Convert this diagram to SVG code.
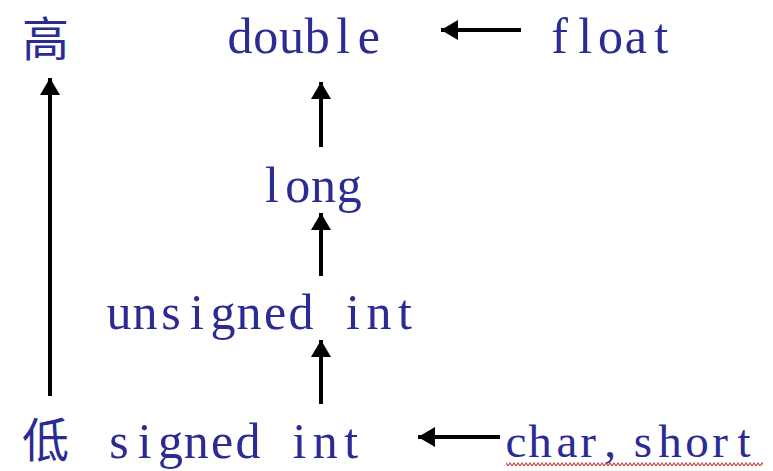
<svg xmlns="http://www.w3.org/2000/svg" width="773" height="471" viewBox="0 0 773 471">
  <style>
    .mono { font-family: "Liberation Serif", "Times New Roman", serif; font-size: 50px; fill: #2b2b96; text-anchor: middle; }
    .cjk { font-family: "Noto Sans CJK SC", "Noto Sans CJK JP", sans-serif; font-size: 47px; fill: #2b2b96; }
    .link { stroke: #000; stroke-width: 4; fill: none; marker-end: url(#head); }
  </style>
  <defs>
    <marker id="head" markerUnits="userSpaceOnUse" markerWidth="20" markerHeight="22" refX="17" refY="10" orient="auto">
      <path d="M0,0 L17,10 L0,20 Z" fill="#000"/>
    </marker>
    <pattern id="squiggle" patternUnits="userSpaceOnUse" x="0" y="462" width="4" height="5">
      <path d="M0,4 L2,1 L4,4" fill="none" stroke="#cc4444" stroke-width="1.2"/>
    </pattern>
  </defs>
  <rect width="773" height="471" fill="#fff"/>

  <g id="connectors">
    <line class="link" x1="50" y1="396" x2="50" y2="78"/>
    <line class="link" x1="521" y1="30" x2="441" y2="30"/>
    <line class="link" x1="321" y1="147" x2="321" y2="82"/>
    <line class="link" x1="321" y1="276" x2="321" y2="213"/>
    <line class="link" x1="321" y1="404" x2="321" y2="340"/>
    <line class="link" x1="500" y1="437" x2="418" y2="437"/>
  </g>

  <g id="high"><text class="cjk" x="22" y="56">高</text></g>
  <g id="low"><text class="cjk" x="22" y="457">低</text></g>

  <!-- type names set on a fixed character grid, one glyph per cell -->
  <g id="double"><text class="mono" y="53" x="240 265.7 291.5 317.3 343.1 368.9">double</text></g>
  <g id="float"><text class="mono" y="53" x="559.7 585.1 610.5 635.9 661.3">float</text></g>
  <g id="long"><text class="mono" y="202" x="271.9 297.7 323.5 349.3">long</text></g>
  <g id="unsigned-int"><text class="mono" y="329" x="119 145 171 197 223 249 275 301 327 353 379 405">unsigned int</text></g>
  <g id="signed-int"><text class="mono" y="458" x="118.9 144.7 170.5 196.3 222.1 247.9 273.7 299.5 325.3 351.1">signed int</text></g>
  <g id="char-short">
    <text class="mono" style="font-size:47px" y="457" x="516 540 567 588 610 626 643 670 697 720 744">char, short</text>
    <rect x="506" y="462" width="257" height="5" fill="url(#squiggle)"/>
  </g>
</svg>
